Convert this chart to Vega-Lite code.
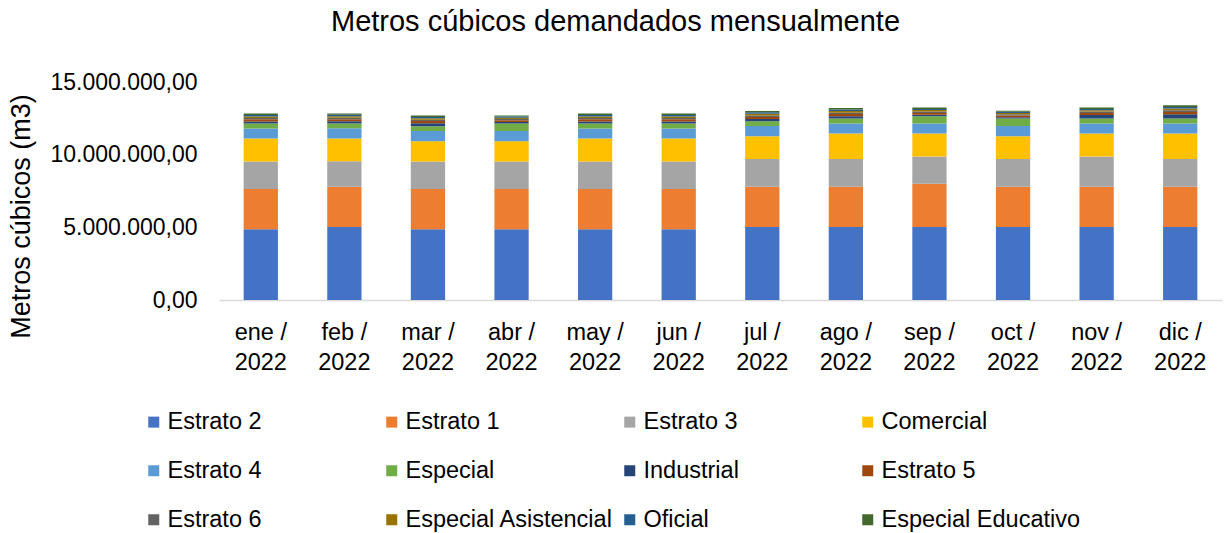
{
  "$schema": "https://vega.github.io/schema/vega-lite/v6.json",
  "width": 1003,
  "height": 218,
  "autosize": {"type": "none"},
  "padding": {"left": 219, "top": 82, "right": 3, "bottom": 233},
  "background": "white",
  "title": {
    "text": "Metros cúbicos demandados mensualmente",
    "font": "Liberation Sans",
    "fontSize": 29,
    "fontWeight": "normal",
    "color": "#000000",
    "anchor": "middle",
    "dx": -105,
    "offset": 34
  },
  "datasets": {
    "orden": [
      {"cat": "Estrato 2", "i": 1},
      {"cat": "Estrato 1", "i": 2},
      {"cat": "Estrato 3", "i": 3},
      {"cat": "Comercial", "i": 4},
      {"cat": "Estrato 4", "i": 5},
      {"cat": "Especial", "i": 6},
      {"cat": "Industrial", "i": 7},
      {"cat": "Estrato 5", "i": 8},
      {"cat": "Estrato 6", "i": 9},
      {"cat": "Especial Asistencial", "i": 10},
      {"cat": "Oficial", "i": 11},
      {"cat": "Especial Educativo", "i": 12}
    ]
  },
  "data": {
    "values": [
      {"mes": "ene / 2022", "cat": "Estrato 2", "m3": 4860000},
      {"mes": "ene / 2022", "cat": "Estrato 1", "m3": 2770000},
      {"mes": "ene / 2022", "cat": "Estrato 3", "m3": 1900000},
      {"mes": "ene / 2022", "cat": "Comercial", "m3": 1580000},
      {"mes": "ene / 2022", "cat": "Estrato 4", "m3": 690000},
      {"mes": "ene / 2022", "cat": "Especial", "m3": 340000},
      {"mes": "ene / 2022", "cat": "Industrial", "m3": 150000},
      {"mes": "ene / 2022", "cat": "Estrato 5", "m3": 140000},
      {"mes": "ene / 2022", "cat": "Estrato 6", "m3": 100000},
      {"mes": "ene / 2022", "cat": "Especial Asistencial", "m3": 100000},
      {"mes": "ene / 2022", "cat": "Oficial", "m3": 100000},
      {"mes": "ene / 2022", "cat": "Especial Educativo", "m3": 100000},

      {"mes": "feb / 2022", "cat": "Estrato 2", "m3": 5020000},
      {"mes": "feb / 2022", "cat": "Estrato 1", "m3": 2770000},
      {"mes": "feb / 2022", "cat": "Estrato 3", "m3": 1750000},
      {"mes": "feb / 2022", "cat": "Comercial", "m3": 1580000},
      {"mes": "feb / 2022", "cat": "Estrato 4", "m3": 690000},
      {"mes": "feb / 2022", "cat": "Especial", "m3": 340000},
      {"mes": "feb / 2022", "cat": "Industrial", "m3": 150000},
      {"mes": "feb / 2022", "cat": "Estrato 5", "m3": 140000},
      {"mes": "feb / 2022", "cat": "Estrato 6", "m3": 100000},
      {"mes": "feb / 2022", "cat": "Especial Asistencial", "m3": 100000},
      {"mes": "feb / 2022", "cat": "Oficial", "m3": 100000},
      {"mes": "feb / 2022", "cat": "Especial Educativo", "m3": 100000},

      {"mes": "mar / 2022", "cat": "Estrato 2", "m3": 4860000},
      {"mes": "mar / 2022", "cat": "Estrato 1", "m3": 2770000},
      {"mes": "mar / 2022", "cat": "Estrato 3", "m3": 1900000},
      {"mes": "mar / 2022", "cat": "Comercial", "m3": 1400000},
      {"mes": "mar / 2022", "cat": "Estrato 4", "m3": 690000},
      {"mes": "mar / 2022", "cat": "Especial", "m3": 340000},
      {"mes": "mar / 2022", "cat": "Industrial", "m3": 200000},
      {"mes": "mar / 2022", "cat": "Estrato 5", "m3": 150000},
      {"mes": "mar / 2022", "cat": "Estrato 6", "m3": 100000},
      {"mes": "mar / 2022", "cat": "Especial Asistencial", "m3": 100000},
      {"mes": "mar / 2022", "cat": "Oficial", "m3": 90000},
      {"mes": "mar / 2022", "cat": "Especial Educativo", "m3": 90000},

      {"mes": "abr / 2022", "cat": "Estrato 2", "m3": 4860000},
      {"mes": "abr / 2022", "cat": "Estrato 1", "m3": 2770000},
      {"mes": "abr / 2022", "cat": "Estrato 3", "m3": 1900000},
      {"mes": "abr / 2022", "cat": "Comercial", "m3": 1400000},
      {"mes": "abr / 2022", "cat": "Estrato 4", "m3": 690000},
      {"mes": "abr / 2022", "cat": "Especial", "m3": 530000},
      {"mes": "abr / 2022", "cat": "Industrial", "m3": 100000},
      {"mes": "abr / 2022", "cat": "Estrato 5", "m3": 120000},
      {"mes": "abr / 2022", "cat": "Estrato 6", "m3": 80000},
      {"mes": "abr / 2022", "cat": "Especial Asistencial", "m3": 90000},
      {"mes": "abr / 2022", "cat": "Oficial", "m3": 80000},
      {"mes": "abr / 2022", "cat": "Especial Educativo", "m3": 80000},

      {"mes": "may / 2022", "cat": "Estrato 2", "m3": 4860000},
      {"mes": "may / 2022", "cat": "Estrato 1", "m3": 2770000},
      {"mes": "may / 2022", "cat": "Estrato 3", "m3": 1900000},
      {"mes": "may / 2022", "cat": "Comercial", "m3": 1580000},
      {"mes": "may / 2022", "cat": "Estrato 4", "m3": 690000},
      {"mes": "may / 2022", "cat": "Especial", "m3": 340000},
      {"mes": "may / 2022", "cat": "Industrial", "m3": 150000},
      {"mes": "may / 2022", "cat": "Estrato 5", "m3": 140000},
      {"mes": "may / 2022", "cat": "Estrato 6", "m3": 100000},
      {"mes": "may / 2022", "cat": "Especial Asistencial", "m3": 100000},
      {"mes": "may / 2022", "cat": "Oficial", "m3": 100000},
      {"mes": "may / 2022", "cat": "Especial Educativo", "m3": 100000},

      {"mes": "jun / 2022", "cat": "Estrato 2", "m3": 4860000},
      {"mes": "jun / 2022", "cat": "Estrato 1", "m3": 2770000},
      {"mes": "jun / 2022", "cat": "Estrato 3", "m3": 1900000},
      {"mes": "jun / 2022", "cat": "Comercial", "m3": 1580000},
      {"mes": "jun / 2022", "cat": "Estrato 4", "m3": 690000},
      {"mes": "jun / 2022", "cat": "Especial", "m3": 340000},
      {"mes": "jun / 2022", "cat": "Industrial", "m3": 150000},
      {"mes": "jun / 2022", "cat": "Estrato 5", "m3": 140000},
      {"mes": "jun / 2022", "cat": "Estrato 6", "m3": 100000},
      {"mes": "jun / 2022", "cat": "Especial Asistencial", "m3": 100000},
      {"mes": "jun / 2022", "cat": "Oficial", "m3": 100000},
      {"mes": "jun / 2022", "cat": "Especial Educativo", "m3": 100000},

      {"mes": "jul / 2022", "cat": "Estrato 2", "m3": 5020000},
      {"mes": "jul / 2022", "cat": "Estrato 1", "m3": 2770000},
      {"mes": "jul / 2022", "cat": "Estrato 3", "m3": 1920000},
      {"mes": "jul / 2022", "cat": "Comercial", "m3": 1560000},
      {"mes": "jul / 2022", "cat": "Estrato 4", "m3": 710000},
      {"mes": "jul / 2022", "cat": "Especial", "m3": 320000},
      {"mes": "jul / 2022", "cat": "Industrial", "m3": 160000},
      {"mes": "jul / 2022", "cat": "Estrato 5", "m3": 140000},
      {"mes": "jul / 2022", "cat": "Estrato 6", "m3": 100000},
      {"mes": "jul / 2022", "cat": "Especial Asistencial", "m3": 110000},
      {"mes": "jul / 2022", "cat": "Oficial", "m3": 100000},
      {"mes": "jul / 2022", "cat": "Especial Educativo", "m3": 100000},

      {"mes": "ago / 2022", "cat": "Estrato 2", "m3": 5020000},
      {"mes": "ago / 2022", "cat": "Estrato 1", "m3": 2770000},
      {"mes": "ago / 2022", "cat": "Estrato 3", "m3": 1920000},
      {"mes": "ago / 2022", "cat": "Comercial", "m3": 1740000},
      {"mes": "ago / 2022", "cat": "Estrato 4", "m3": 690000},
      {"mes": "ago / 2022", "cat": "Especial", "m3": 340000},
      {"mes": "ago / 2022", "cat": "Industrial", "m3": 170000},
      {"mes": "ago / 2022", "cat": "Estrato 5", "m3": 140000},
      {"mes": "ago / 2022", "cat": "Estrato 6", "m3": 100000},
      {"mes": "ago / 2022", "cat": "Especial Asistencial", "m3": 110000},
      {"mes": "ago / 2022", "cat": "Oficial", "m3": 100000},
      {"mes": "ago / 2022", "cat": "Especial Educativo", "m3": 110000},

      {"mes": "sep / 2022", "cat": "Estrato 2", "m3": 5020000},
      {"mes": "sep / 2022", "cat": "Estrato 1", "m3": 2980000},
      {"mes": "sep / 2022", "cat": "Estrato 3", "m3": 1880000},
      {"mes": "sep / 2022", "cat": "Comercial", "m3": 1580000},
      {"mes": "sep / 2022", "cat": "Estrato 4", "m3": 690000},
      {"mes": "sep / 2022", "cat": "Especial", "m3": 500000},
      {"mes": "sep / 2022", "cat": "Industrial", "m3": 100000},
      {"mes": "sep / 2022", "cat": "Estrato 5", "m3": 120000},
      {"mes": "sep / 2022", "cat": "Estrato 6", "m3": 100000},
      {"mes": "sep / 2022", "cat": "Especial Asistencial", "m3": 100000},
      {"mes": "sep / 2022", "cat": "Oficial", "m3": 80000},
      {"mes": "sep / 2022", "cat": "Especial Educativo", "m3": 100000},

      {"mes": "oct / 2022", "cat": "Estrato 2", "m3": 5020000},
      {"mes": "oct / 2022", "cat": "Estrato 1", "m3": 2770000},
      {"mes": "oct / 2022", "cat": "Estrato 3", "m3": 1920000},
      {"mes": "oct / 2022", "cat": "Comercial", "m3": 1560000},
      {"mes": "oct / 2022", "cat": "Estrato 4", "m3": 710000},
      {"mes": "oct / 2022", "cat": "Especial", "m3": 500000},
      {"mes": "oct / 2022", "cat": "Industrial", "m3": 100000},
      {"mes": "oct / 2022", "cat": "Estrato 5", "m3": 120000},
      {"mes": "oct / 2022", "cat": "Estrato 6", "m3": 80000},
      {"mes": "oct / 2022", "cat": "Especial Asistencial", "m3": 90000},
      {"mes": "oct / 2022", "cat": "Oficial", "m3": 80000},
      {"mes": "oct / 2022", "cat": "Especial Educativo", "m3": 80000},

      {"mes": "nov / 2022", "cat": "Estrato 2", "m3": 5020000},
      {"mes": "nov / 2022", "cat": "Estrato 1", "m3": 2770000},
      {"mes": "nov / 2022", "cat": "Estrato 3", "m3": 2080000},
      {"mes": "nov / 2022", "cat": "Comercial", "m3": 1580000},
      {"mes": "nov / 2022", "cat": "Estrato 4", "m3": 690000},
      {"mes": "nov / 2022", "cat": "Especial", "m3": 340000},
      {"mes": "nov / 2022", "cat": "Industrial", "m3": 250000},
      {"mes": "nov / 2022", "cat": "Estrato 5", "m3": 140000},
      {"mes": "nov / 2022", "cat": "Estrato 6", "m3": 100000},
      {"mes": "nov / 2022", "cat": "Especial Asistencial", "m3": 90000},
      {"mes": "nov / 2022", "cat": "Oficial", "m3": 90000},
      {"mes": "nov / 2022", "cat": "Especial Educativo", "m3": 90000},

      {"mes": "dic / 2022", "cat": "Estrato 2", "m3": 5020000},
      {"mes": "dic / 2022", "cat": "Estrato 1", "m3": 2770000},
      {"mes": "dic / 2022", "cat": "Estrato 3", "m3": 1920000},
      {"mes": "dic / 2022", "cat": "Comercial", "m3": 1740000},
      {"mes": "dic / 2022", "cat": "Estrato 4", "m3": 690000},
      {"mes": "dic / 2022", "cat": "Especial", "m3": 340000},
      {"mes": "dic / 2022", "cat": "Industrial", "m3": 300000},
      {"mes": "dic / 2022", "cat": "Estrato 5", "m3": 160000},
      {"mes": "dic / 2022", "cat": "Estrato 6", "m3": 120000},
      {"mes": "dic / 2022", "cat": "Especial Asistencial", "m3": 120000},
      {"mes": "dic / 2022", "cat": "Oficial", "m3": 100000},
      {"mes": "dic / 2022", "cat": "Especial Educativo", "m3": 120000}
    ]
  },
  "transform": [
    {"lookup": "cat", "from": {"data": {"name": "orden"}, "key": "cat", "fields": ["i"]}}
  ],
  "mark": {"type": "bar"},
  "encoding": {
    "x": {
      "field": "mes",
      "type": "nominal",
      "sort": null,
      "scale": {"paddingInner": 0.59, "paddingOuter": 0.295},
      "axis": {
        "title": null,
        "labelAngle": 0,
        "labelFont": "Liberation Sans",
        "labelFontSize": 23.5,
        "labelColor": "#000000",
        "labelLineHeight": 30,
        "labelPadding": 20,
        "labelExpr": "[slice(datum.label, 0, indexof(datum.label, '/') + 1), slice(datum.label, indexof(datum.label, '/') + 2)]",
        "ticks": false,
        "domainColor": "#D9D9D9",
        "domainWidth": 1.5,
        "grid": false
      }
    },
    "y": {
      "field": "m3",
      "type": "quantitative",
      "stack": "zero",
      "scale": {"domain": [0, 15000000], "nice": false},
      "axis": {
        "title": "Metros cúbicos (m3)",
        "titleFont": "Liberation Sans",
        "titleFontSize": 27,
        "titleFontWeight": "normal",
        "titleColor": "#000000",
        "titlePadding": 14,
        "titleY": 134,
        "values": [0, 5000000, 10000000, 15000000],
        "format": ",.2f",
        "labelFont": "Liberation Sans",
        "labelFontSize": 23,
        "labelColor": "#000000",
        "labelPadding": 22,
        "ticks": false,
        "domain": false,
        "grid": false
      }
    },
    "order": {"field": "i", "type": "quantitative", "sort": "ascending"},
    "color": {
      "field": "cat",
      "type": "nominal",
      "scale": {
        "domain": ["Estrato 2", "Estrato 1", "Estrato 3", "Comercial", "Estrato 4", "Especial", "Industrial", "Estrato 5", "Estrato 6", "Especial Asistencial", "Oficial", "Especial Educativo"],
        "range": ["#4472C4", "#ED7D31", "#A5A5A5", "#FFC000", "#5B9BD5", "#70AD47", "#264478", "#9E480E", "#636363", "#997300", "#255E91", "#43682B"]
      },
      "legend": {
        "title": null,
        "orient": "none",
        "legendX": -77,
        "legendY": 328,
        "direction": "horizontal",
        "columns": 4,
        "gridAlign": "all",
        "columnPadding": 4,
        "rowPadding": 24,
        "symbolType": "square",
        "symbolSize": 121,
        "symbolStrokeWidth": 0,
        "labelOffset": 2,
        "labelFont": "Liberation Sans",
        "labelFontSize": 23.5,
        "labelColor": "#000000",
        "labelLimit": 400
      }
    }
  },
  "config": {
    "view": {"stroke": null},
    "locale": {
      "number": {"decimal": ",", "thousands": ".", "grouping": [3], "currency": ["$", ""]}
    }
  }
}
